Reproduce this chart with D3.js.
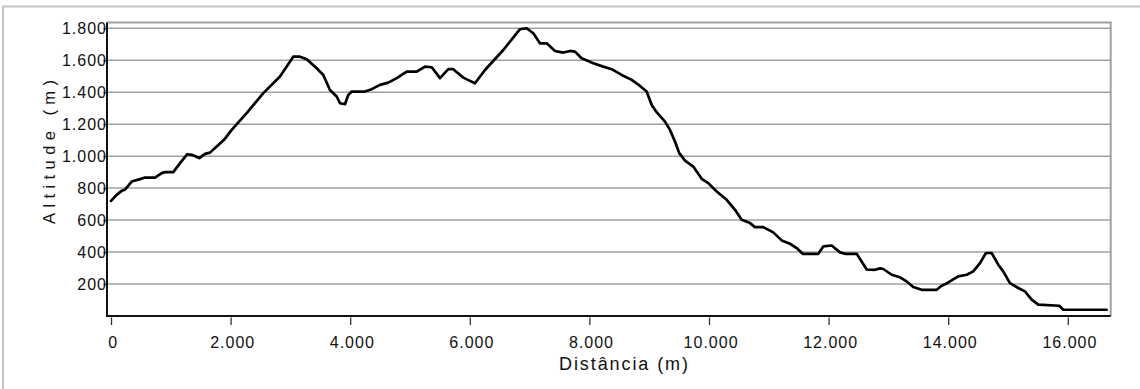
<!DOCTYPE html>
<html>
<head>
<meta charset="utf-8">
<script src="https://cdn.jsdelivr.net/npm/d3@7"></script>
<style>
  body { margin: 0; background: #fff; }
  svg { display: block; font-family: "Liberation Sans", Arial, sans-serif; }
</style>
</head>
<body>
<div id="chart"></div>
<script>
// profile: distance (m) and altitude (m)
const distances = [0, 95, 179, 234, 346, 485, 569, 736, 848, 903, 1042, 1154, 1276, 1349, 1477, 1572,
  1656, 1767, 1890, 2018, 2269, 2547, 2826, 3048, 3161, 3273, 3440, 3550, 3662, 3774, 3829, 3913,
  3968, 4025, 4247, 4360, 4498, 4637, 4778, 4945, 5112, 5251, 5363, 5502, 5640, 5724, 5891, 6003,
  6087, 6254, 6560, 6839, 6951, 7062, 7174, 7286, 7425, 7564, 7676, 7759, 7871, 8065, 8232, 8373,
  8540, 8707, 8846, 8958, 9042, 9125, 9264, 9348, 9431, 9503, 9599, 9737, 9878, 9988, 10129, 10296,
  10435, 10547, 10686, 10769, 10908, 11075, 11216, 11355, 11467, 11567, 11828, 11912, 12052, 12191,
  12274, 12470, 12553, 12637, 12776, 12860, 12915, 13055, 13194, 13306, 13416, 13557, 13808, 13891,
  14002, 14169, 14309, 14420, 14532, 14632, 14727, 14838, 14921, 15033, 15172, 15284, 15396, 15507,
  15858, 15925, 16650];
const altitudes = [720, 758, 783, 790, 841, 856, 866, 866, 894, 900, 900, 956, 1012, 1008, 988, 1014,
  1022, 1060, 1102, 1164, 1269, 1394, 1498, 1622, 1622, 1606, 1550, 1508, 1414, 1373, 1331, 1325,
  1383, 1404, 1404, 1419, 1446, 1460, 1488, 1529, 1529, 1560, 1556, 1488, 1544, 1544, 1491, 1471,
  1456, 1539, 1664, 1794, 1800, 1769, 1706, 1706, 1658, 1648, 1658, 1654, 1612, 1581, 1560, 1544,
  1508, 1477, 1439, 1404, 1320, 1275, 1216, 1164, 1091, 1019, 972, 935, 858, 831, 779, 727,
  664, 602, 581, 556, 556, 523, 473, 452, 425, 389, 389, 435, 441, 398,
  389, 389, 341, 291, 289, 298, 294, 258, 242, 216, 181, 164, 164, 189,
  210, 248, 258, 279, 331, 394, 394, 321, 279, 206, 175, 154, 102, 71,
  64, 39, 39];
const xTicks = [0, 2000, 4000, 6000, 8000, 10000, 12000, 14000, 16000];
const yTicks = [200, 400, 600, 800, 1000, 1200, 1400, 1600, 1800];
const xTitle = "Distância (m)";
const yTitle = "Altitude (m)";

const W = 1140, H = 389;
const plotL = 107, plotR = 1110.7, plotT = 22.5, plotB = 316;

const pt = d3.formatLocale({decimal: ",", thousands: ".", grouping: [3], currency: ["", ""]});
const fmt = pt.format(",");

const svg = d3.select("#chart").append("svg")
    .attr("width", W)
    .attr("height", H);

// outer frame (only top and left edges show)
svg.append("rect")
    .attr("x", 3).attr("y", 6.5)
    .attr("width", W + 10).attr("height", H + 10)
    .attr("fill", "none")
    .attr("stroke", "#c4c4c4")
    .attr("stroke-width", 2);

const x = d3.scaleLinear().domain([-67, 16718]).range([plotL, plotR]);
const y = d3.scaleLinear().domain([0, 1836]).range([plotB, plotT]);

//grid lines
svg.append("g")
    .selectAll("line")
    .data(yTicks)
    .join("line")
    .attr("x1", plotL).attr("x2", plotR)
    .attr("y1", d => y(d)).attr("y2", d => y(d))
    .attr("stroke", "#a0a0a0")
    .attr("stroke-width", 1.5);

// top and right frame of the plot
svg.append("path")
    .attr("d", `M${plotL},${plotT}H${plotR}V${plotB}`)
    .attr("fill", "none")
    .attr("stroke", "#a0a0a0")
    .attr("stroke-width", 2);

// x axis ticks + labels
const xAxis = svg.append("g")
    .attr("transform", `translate(0,${plotB + 1.5})`)
    .call(d3.axisBottom(x).tickValues(xTicks).tickSize(7.5).tickSizeOuter(0).tickFormat(fmt));
xAxis.select(".domain").remove();
xAxis.selectAll(".tick line").attr("stroke", "#333").attr("stroke-width", 1.3);
xAxis.selectAll(".tick text")
    .attr("y", 19)
    .attr("dx", "0.1em")
    .attr("fill", "#111")
    .style("font-size", "16px")
    .style("letter-spacing", "1px");

// y axis ticks + labels
const yAxis = svg.append("g")
    .attr("transform", `translate(${plotL},0)`)
    .call(d3.axisLeft(y).tickValues(yTicks).tickSize(3.5).tickSizeOuter(0).tickFormat(fmt));
yAxis.select(".domain").remove();
yAxis.selectAll(".tick line").attr("stroke", "#222").attr("stroke-width", 1.3);
yAxis.selectAll(".tick text")
    .attr("x", 0)
    .attr("fill", "#111")
    .style("font-size", "16px")
    .style("letter-spacing", "1px");

// axis lines
svg.append("path")
    .attr("d", `M${plotL},${plotT}V${plotB}H${plotR}`)
    .attr("fill", "none")
    .attr("stroke", "#111")
    .attr("stroke-width", 2);

// profile line
const line = d3.line()
    .x((d, i) => x(distances[i]))
    .y(d => y(d));

svg.append("path")
    .datum(altitudes)
    .attr("d", line)
    .attr("fill", "none")
    .attr("stroke", "#000")
    .attr("stroke-width", 2.7)
    .attr("stroke-linejoin", "round")
    .attr("stroke-linecap", "round");

// titles
svg.append("text")
    .attr("x", 559).attr("y", 370)
    .attr("textLength", 129)
    .attr("lengthAdjust", "spacing")
    .attr("fill", "#111")
    .style("font-size", "18px")
    .text(xTitle);

svg.append("text")
    .attr("transform", "translate(55,224) rotate(-90)")
    .attr("textLength", 144)
    .attr("lengthAdjust", "spacing")
    .attr("fill", "#111")
    .style("font-size", "16.5px")
    .text(yTitle);
</script>
</body>
</html>
